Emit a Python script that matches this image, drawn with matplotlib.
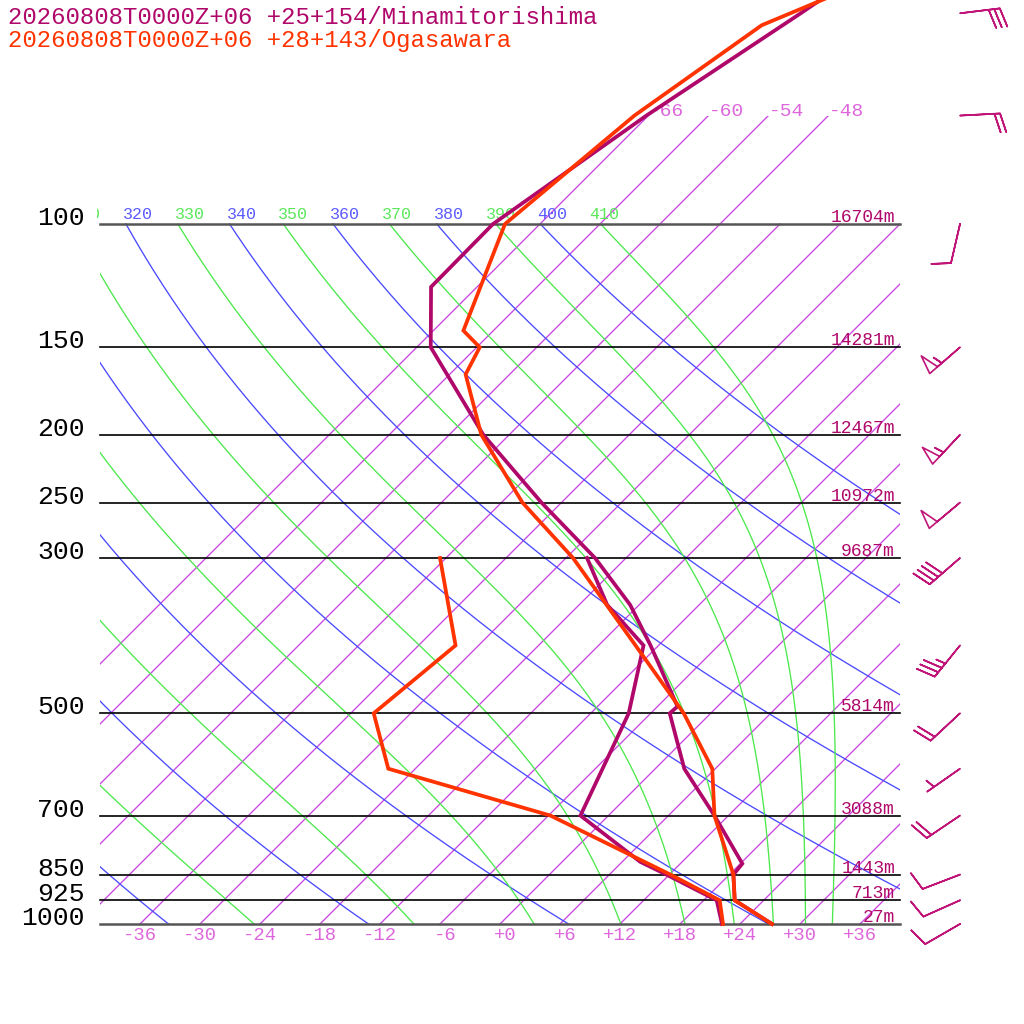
import numpy as np
import matplotlib
matplotlib.use('Agg')
import matplotlib.pyplot as plt
from matplotlib.patches import Rectangle
from matplotlib.transforms import offset_copy, Bbox, TransformedBbox

# ---------------- data ----------------
mina_p = [1000, 925, 850, 820, 700, 600, 500, 489, 400, 350, 300, 250, 200, 150, 123, 100, 70, 50, 40]
mina_t = [27.2, 21.1, 18.4, 18.2, 10.6, 2.9, -4.1, -4.0, -12.8, -18.9, -27.1, -38.0, -50.6, -64.6, -70.6, -70.7, -66.2, -61.0, -57.8]
mina_td_p = [1000, 925, 850, 815, 700, 500, 400, 350, 300]
mina_td = [22.2, 19.3, 11.7, 7.8, -2.8, -8.2, -13.5, -21.2, -27.9]

oga_p = [1000, 925, 850, 700, 600, 500, 400, 300, 250, 200, 164, 150, 142, 100, 70, 52, 40]
oga_t = [27.2, 21.1, 18.4, 10.6, 5.7, -2.7, -14.3, -29.3, -39.9, -50.8, -58.4, -59.7, -63.0, -69.5, -67.4, -63.7, -52.6]
oga_td_p = [1000, 925, 850, 700, 600, 500, 400, 300]
oga_td = [22.3, 19.6, 12.1, -5.8, -26.7, -33.7, -32.3, -42.6]

wind_p = [1000, 925, 850, 700, 600, 500, 400, 300, 250, 200, 150, 100, 70, 50]
wind_dir = [240, 246, 249, 236, 235, 227, 219, 229, 230, 223, 229, 193, 87, 83]
wind_spd = [10, 10, 10, 20, 5, 20, 35, 40, 50, 55, 55, 10, 20, 30]

std_p = [1000, 925, 850, 700, 500, 300, 250, 200, 150, 100]
std_hgt = [27, 713, 1443, 3088, 5814, 9687, 10972, 12467, 14281, 16704]

temp_ticks = list(range(-36, 37, 6))
isotherms = list(range(-66, 37, 6))
upper_isotherms = [-66, -60, -54, -48]
dry_thetas = list(range(240, 401, 20))
moist_thetas = list(range(250, 411, 20))
theta_labels = list(range(310, 411, 10))

title1 = "20260808T0000Z+06 +25+154/Minamitorishima"
title2 = "20260808T0000Z+06 +28+143/Ogasawara"

C_MINA = '#b0086a'
C_OGA = '#ff3300'
C_BARB = '#c01478'
C_ISO = '#c845e0'
C_ISOLAB = '#dd66dd'
C_DRY = '#4a4aff'
C_MOIST = '#4ce84c'
FONT = 'Liberation Mono'

SKEW = 70.0  # deg C per decade of pressure


def skx(t, p):
    return np.asarray(t, float) + SKEW * np.log10(1000.0 / np.asarray(p, float))


# ---------------- thermodynamics ----------------
def es(tk):
    tc = tk - 273.15
    return 6.112 * np.exp(17.67 * tc / (tc + 243.5))


def rsat(tk, p):
    e = es(tk)
    return 0.622 * e / (p - e)


def theta_e_sat(tk, p):
    r = rsat(tk, p)
    return tk * (1000.0 / p) ** (0.2854 * (1 - 0.28 * r)) * np.exp((3.376 / tk - 0.00254) * r * 1000 * (1 + 0.81 * r))


def dTdp(tk, p):
    r = rsat(tk, p)
    Rd, cp, Lv, eps = 287.04, 1005.7, 2.501e6, 0.622
    return ((Rd * tk + Lv * r) / p) / (cp + Lv * Lv * r * eps / (Rd * tk * tk))


def moist_adiabat(the, plev):
    tg = np.linspace(200, 330, 4000)
    t0 = np.interp(the, theta_e_sat(tg, 1000.0), tg)
    out = [t0]
    t = t0
    for i in range(len(plev) - 1):
        p0, p1 = plev[i], plev[i + 1]
        h = p1 - p0
        k1 = dTdp(t, p0)
        k2 = dTdp(t + 0.5 * h * k1, p0 + 0.5 * h)
        k3 = dTdp(t + 0.5 * h * k2, p0 + 0.5 * h)
        k4 = dTdp(t + h * k3, p1)
        t = t + h / 6 * (k1 + 2 * k2 + 2 * k3 + k4)
        out.append(t)
    return np.array(out) - 273.15


# ---------------- figure ----------------
fig = plt.figure(figsize=(10.24, 10.24), dpi=100)
ax = fig.add_axes([0, 0, 1, 1])
ax.set_yscale('log')
ax.set_xlim(-50, 52.4)
ax.set_ylim(10 ** (3 + 100 / 700), 10 ** (3 - 924 / 700))
ax.axis('off')

clip_lines = Rectangle((-40, 1000), 80, 70 - 1000, transform=ax.transData, fill=False, visible=False)
ax.add_patch(clip_lines)
label_box = TransformedBbox(Bbox([[-40.3, 50], [40.3, 1000]]), ax.transData)

plev = np.linspace(1000, 100, 451)

# isotherms
for t in isotherms:
    ptop = 70 if t in upper_isotherms else 100
    pp = np.array([1000, ptop])
    ln, = ax.plot(skx([t, t], pp), pp, color=C_ISO, lw=0.95, zorder=1)
    ln.set_clip_path(clip_lines)

# dry adiabats
for th in dry_thetas:
    tt = th * (plev / 1000.0) ** 0.2857 - 273.15
    ln, = ax.plot(skx(tt, plev), plev, color=C_DRY, lw=0.95, zorder=1)
    ln.set_clip_path(clip_lines)

# moist adiabats
for th in moist_thetas:
    tt = moist_adiabat(float(th), plev)
    ln, = ax.plot(skx(tt, plev), plev, color=C_MOIST, lw=0.95, zorder=1)
    ln.set_clip_path(clip_lines)

# theta labels at 100 hPa
tr_up6 = offset_copy(ax.transData, fig=fig, x=0, y=5, units='dots')
for th in theta_labels:
    t100 = th * 0.1 ** 0.2857 - 273.15
    col = '#5a5aff' if th % 20 == 0 else '#5ae85a'
    txt = ax.text(skx(t100, 100) - 0.3, 100, str(th), color=col, fontsize=12, family=FONT,
                  ha='left', va='baseline', transform=tr_up6, zorder=2)
    txt.set_clip_on(True)
    txt.set_clip_box(label_box)

# isotherm labels at 70 hPa
for t in upper_isotherms:
    ax.text(skx(t, 70), 70, '%+d' % t, color=C_ISOLAB, fontsize=14, family=FONT,
            ha='left', va='baseline', zorder=2)

# isobars
for p in std_p:
    col = '#555555' if p in (1000, 100) else 'black'
    lw = 1.8 if p in (1000, 100) else 1.2
    ax.plot([-40, 40], [p, p], color=col, lw=lw, zorder=2)

# pressure labels
tr_dn = offset_copy(ax.transData, fig=fig, x=0, y=-1, units='dots')
for p in std_p:
    ax.text(-41.5, p, str(p), color='black', fontsize=19, family=FONT, ha='right', va='baseline',
            transform=tr_dn, zorder=3)

# height labels
tr_up2 = offset_copy(ax.transData, fig=fig, x=0, y=2, units='dots')
for p, h in zip(std_p, std_hgt):
    ax.text(39.5, p, '%dm' % h, color=C_MINA, fontsize=13, family=FONT, ha='right', va='baseline',
            transform=tr_up2, zorder=3)

# temperature tick labels
for t in temp_ticks:
    ax.text(t + 1.67, 10 ** (3 + 12 / 700), '%+d' % t, color=C_ISOLAB, fontsize=13.6, family=FONT,
            ha='right', va='center', zorder=3)

# soundings
ax.plot(skx(mina_t, mina_p), mina_p, color=C_MINA, lw=2.7, zorder=5, solid_joinstyle='miter')
ax.plot(skx(mina_td, mina_td_p), mina_td_p, color=C_MINA, lw=2.7, zorder=5, solid_joinstyle='miter')
ax.plot(skx(oga_t, oga_p), oga_p, color=C_OGA, lw=2.7, zorder=6, solid_joinstyle='miter')
ax.plot(skx(oga_td, oga_td_p), oga_td_p, color=C_OGA, lw=2.7, zorder=6, solid_joinstyle='miter')

# wind barbs
wd = np.deg2rad(np.array(wind_dir, float))
ws = np.array(wind_spd, float)
u = -ws * np.sin(wd)
v = -ws * np.cos(wd)
ax.barbs(np.full(len(wind_p), 46.0), wind_p, u, v, length=7.6, barbcolor=C_BARB, flagcolor='none',
         linewidth=1.2, sizes=dict(spacing=0.14, height=0.47, width=0.26), zorder=6, clip_on=False)

# titles
fig.text(8 / 1024, 1 - 17 / 1024, title1, color=C_MINA, fontsize=17.3, family=FONT, ha='left', va='center')
fig.text(8 / 1024, 1 - 41 / 1024, title2, color=C_OGA, fontsize=17.3, family=FONT, ha='left', va='center')

fig.savefig('out.png', dpi=100, facecolor='white')
